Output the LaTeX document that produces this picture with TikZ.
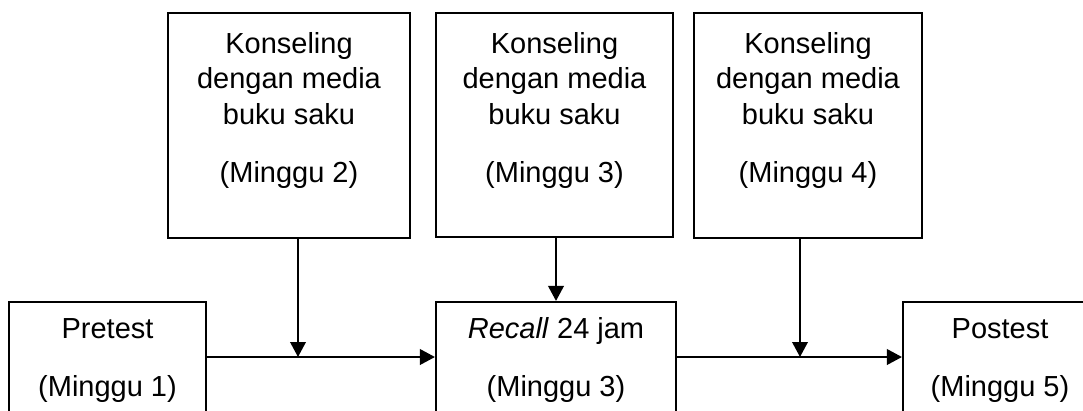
\documentclass[tikz,border=0pt]{standalone}
\usepackage{fontspec}
\setmainfont{Liberation Sans}
\usetikzlibrary{arrows.meta}
% two groups of centred lines, the second set off by an extra gap;
% the baseline of the whole block is that of its first line
\newcommand{\twoblock}[2]{\vtop{\baselineskip=35.5pt\halign{\hfil##\hfil\cr#1\crcr\noalign{\vskip22.5pt}#2\crcr}}}
\begin{document}
\begin{tikzpicture}[x=1pt,y=-1pt,
  box/.style={draw, line width=2.1pt, rectangle, inner sep=0pt},
  txt/.style={anchor=base, inner sep=0pt, font=\fontsize{29}{35.5}\selectfont},
  link/.style={line width=2.1pt, -{Triangle[length=15pt,width=15.5pt]}}]
\useasboundingbox (0,0) rectangle (1083,410);
\clip (0,0) rectangle (1083,410);

% counselling sessions
\node[box, minimum width=242pt, minimum height=225pt] (k1) at (289,125.5) {};
\node[box, minimum width=237pt, minimum height=224pt] (k2) at (554.5,125) {};
\node[box, minimum width=228pt, minimum height=225pt] (k3) at (808,125.5) {};
\node[txt] (k1t) at (289,53) {\twoblock{Konseling\cr dengan media\cr buku saku}{(Minggu 2)}};
\node[txt] (k2t) at (554.5,53) {\twoblock{Konseling\cr dengan media\cr buku saku}{(Minggu 3)}};
\node[txt] (k3t) at (808,53) {\twoblock{Konseling\cr dengan media\cr buku saku}{(Minggu 4)}};

% measurements
\node[box, minimum width=197pt, minimum height=128pt] (p) at (107.5,366) {};
\node[box, minimum width=240pt, minimum height=128pt] (r) at (556,366) {};
\node[box, minimum width=194pt, minimum height=128pt] (q) at (1000,366) {};
\node[txt] (pt) at (107.5,338) {\twoblock{Pretest}{(Minggu 1)}};
\node[txt] (rt) at (556,338) {\twoblock{\textit{Recall} 24 jam}{(Minggu 3)}};
\node[txt] (qt) at (1000,338) {\twoblock{Postest}{(Minggu 5)}};

% flow
\coordinate (j1) at (298,357);
\coordinate (j2) at (800,357);
\draw[link] (p.east |- j1) -- (r.west |- j1);
\draw[link] (k1.south -| j1) -- (j1);
\draw[link] (r.north |- k2.south) -- (r.north);
\draw[link] (r.east |- j2) -- (q.west |- j2);
\draw[link] (k3.south -| j2) -- (j2);
\end{tikzpicture}
\end{document}
